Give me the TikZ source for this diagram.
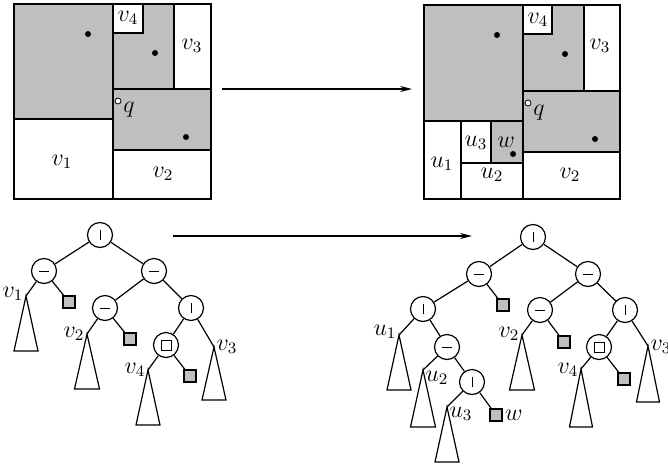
\documentclass[tikz,border=0pt]{standalone}
\usetikzlibrary{arrows.meta}

\tikzset{
  hcut/.style={shape=circle,draw=black,minimum size=12.5pt,inner sep=0pt,
    path picture={\draw[line width=0.45pt] ([xshift=-2.6pt]path picture bounding box.center) -- ++(5.2pt,0);}},
  vcut/.style={shape=circle,draw=black,minimum size=12.5pt,inner sep=0pt,
    path picture={\draw[line width=0.45pt] ([yshift=-2.6pt]path picture bounding box.center) -- ++(0,5.2pt);}},
  boxcut/.style={shape=circle,draw=black,minimum size=12.5pt,inner sep=0pt,
    path picture={\draw[line width=0.45pt] ([shift={(-2.5pt,-2.5pt)}]path picture bounding box.center) rectangle ++(5pt,5pt);}},
  leaf/.style={shape=rectangle,draw=black,fill=black!25,minimum size=6pt,inner sep=0pt},
  lbl/.style={font=\large,inner sep=1pt},
  shade/.style={fill=black!25},
  pt/.style={fill=black,shape=circle,minimum size=3pt,inner sep=0pt},
  query/.style={shape=circle,draw=black,fill=white,minimum size=3pt,inner sep=0pt,line width=0.4pt},
}
\newcommand{\subtree}[3]{\draw (#1) -- ++(-#2,#3) -- ++(2*#2,0) -- cycle;}

\begin{document}
\begin{tikzpicture}[x=0.5pt,y=-0.5pt,line width=0.6pt]
    \useasboundingbox (0,0) rectangle (668,467);

    % left subdivision
    \fill[shade] (14,4) rectangle (113,119);
    \fill[shade] (113,4) rectangle (174,89);
    \fill[shade] (113,89) rectangle (211,150);
    \draw (14,4) rectangle (211,199);
    \draw (14,119) -- (113,119);
    \draw (113,4) -- (113,199);
    \draw (174,4) -- (174,89);
    \draw (113,89) -- (211,89);
    \draw (113,150) -- (211,150);
    \draw[fill=white] (113,4) rectangle (143,33);
    \node[pt] (p1) at (88,34) {};
    \node[pt] (p2) at (155,53) {};
    \node[pt] (p3) at (186,137) {};
    \node[query] (q) at (118,101) {};
    \node[lbl] (lq) at (129,110) {$q$};
    \node[lbl] (lv4) at (128,18) {$v_4$};
    \node[lbl] (lv3) at (192,46) {$v_3$};
    \node[lbl] (lv1) at (62,162) {$v_1$};
    \node[lbl] (lv2) at (163,174) {$v_2$};

    % right subdivision
    \fill[shade] (424,5) rectangle (523,121);
    \fill[shade] (523,5) rectangle (584,91);
    \fill[shade] (523,91) rectangle (620,152);
    \fill[shade] (491,121) rectangle (523,163);
    \draw (424,5) rectangle (620,199);
    \draw (424,121) -- (523,121);
    \draw (523,5) -- (523,199);
    \draw (584,5) -- (584,91);
    \draw (523,91) -- (620,91);
    \draw (523,152) -- (620,152);
    \draw (461,121) -- (461,199);
    \draw (461,163) -- (523,163);
    \draw (491,121) -- (491,163);
    \draw[fill=white] (523,5) rectangle (552,34);
    \node[pt] (r1) at (497,35) {};
    \node[pt] (r2) at (565,54) {};
    \node[pt] (r3) at (595,139) {};
    \node[pt] (r4) at (513,154) {};
    \node[query] (q') at (528,103) {};
    \node[lbl] (lq') at (539,113) {$q$};
    \node[lbl] (lv4') at (538,20) {$v_4$};
    \node[lbl] (lv3') at (600,46) {$v_3$};
    \node[lbl] (lu3) at (476,143) {$u_3$};
    \node[lbl] (lw) at (506,142) {$w$};
    \node[lbl] (lu1) at (442,164) {$u_1$};
    \node[lbl] (lu2) at (492,175) {$u_2$};
    \node[lbl] (lv2') at (570,175) {$v_2$};

    % arrows
    \coordinate (A1) at (222,89);
    \coordinate (A2) at (412,89);
    \coordinate (B1) at (173,236);
    \coordinate (B2) at (472,236);
    \path [-{Stealth[length=6pt,width=3pt]}] (A1) edge (A2);
    \path [-{Stealth[length=6pt,width=3pt]}] (B1) edge (B2);

    % left tree
    \node[vcut] (n0) at (100,235) {};
    \node[hcut] (n1) at (44,271) {};
    \node[hcut] (n2) at (154,271) {};
    \node[hcut] (n3) at (105,308) {};
    \node[vcut] (n4) at (191,308) {};
    \node[boxcut] (n5) at (166,345) {};
    \node[leaf] (s1) at (69,302) {};
    \node[leaf] (s2) at (130,339) {};
    \node[leaf] (s3) at (190,376) {};
    \coordinate (a1) at (26,296);
    \coordinate (a2) at (87,334);
    \coordinate (a3) at (214,347);
    \coordinate (a4) at (148,370);
    \subtree{a1}{12}{55}
    \subtree{a2}{12.5}{55}
    \subtree{a3}{12}{53}
    \subtree{a4}{12}{55}
    \path (n0) edge (n1) edge (n2);
    \path (n1) edge (a1) edge (s1);
    \path (n2) edge (n3) edge (n4);
    \path (n3) edge (a2) edge (s2);
    \path (n4) edge (n5) edge (a3);
    \path (n5) edge (a4) edge (s3);
    \node[lbl,anchor=east] (tv1) at ([yshift=1pt]a1) {$v_1$};
    \node[lbl,anchor=east] (tv2) at (a2) {$v_2$};
    \node[lbl,anchor=west] (tv3) at (a3) {$v_3$};
    \node[lbl,anchor=east] (tv4) at (a4) {$v_4$};

    % right tree
    \node[vcut] (m0) at (533,237) {};
    \node[hcut] (m1) at (479,274) {};
    \node[hcut] (m2) at (588,274) {};
    \node[vcut] (m3) at (423,309) {};
    \node[hcut] (m4) at (540,310) {};
    \node[vcut] (m5) at (625,310) {};
    \node[hcut] (m6) at (447,347) {};
    \node[boxcut] (m7) at (599,347) {};
    \node[vcut] (m8) at (472,382) {};
    \node[leaf] (t1) at (503,305) {};
    \node[leaf] (t2) at (564,342) {};
    \node[leaf] (t3) at (624,379) {};
    \node[leaf] (t4) at (496,415) {};
    \coordinate (b1) at (399,335);
    \coordinate (b2) at (522,335);
    \coordinate (b3) at (648,346);
    \coordinate (b4) at (423,370);
    \coordinate (b5) at (447,407);
    \coordinate (b6) at (581,369);
    \subtree{b1}{12}{55}
    \subtree{b2}{12.5}{55}
    \subtree{b3}{11.5}{56}
    \subtree{b4}{12.5}{57}
    \subtree{b5}{12}{55}
    \subtree{b6}{11.5}{58}
    \path (m0) edge (m1) edge (m2);
    \path (m1) edge (m3) edge (t1);
    \path (m3) edge (b1) edge (m6);
    \path (m6) edge (b4) edge (m8);
    \path (m8) edge (b5) edge (t4);
    \path (m2) edge (m4) edge (m5);
    \path (m4) edge (b2) edge (t2);
    \path (m5) edge (m7) edge (b3);
    \path (m7) edge (b6) edge (t3);
    \node[lbl,anchor=east] (tu1) at ([yshift=1.5pt]b1) {$u_1$};
    \node[lbl,anchor=east] (tv2') at ([yshift=0.5pt]b2) {$v_2$};
    \node[lbl,anchor=west] (tv3') at ([yshift=-0.5pt]b3) {$v_3$};
    \node[lbl,anchor=west] (tu2) at ([yshift=-4pt]b4) {$u_2$};
    \node[lbl,anchor=west] (tu3) at ([yshift=-3.5pt]b5) {$u_3$};
    \node[lbl,anchor=west] (tw) at (t4.east) {$w$};
    \node[lbl,anchor=east] (tv4') at ([yshift=-0.5pt]b6) {$v_4$};
\end{tikzpicture}
\end{document}
